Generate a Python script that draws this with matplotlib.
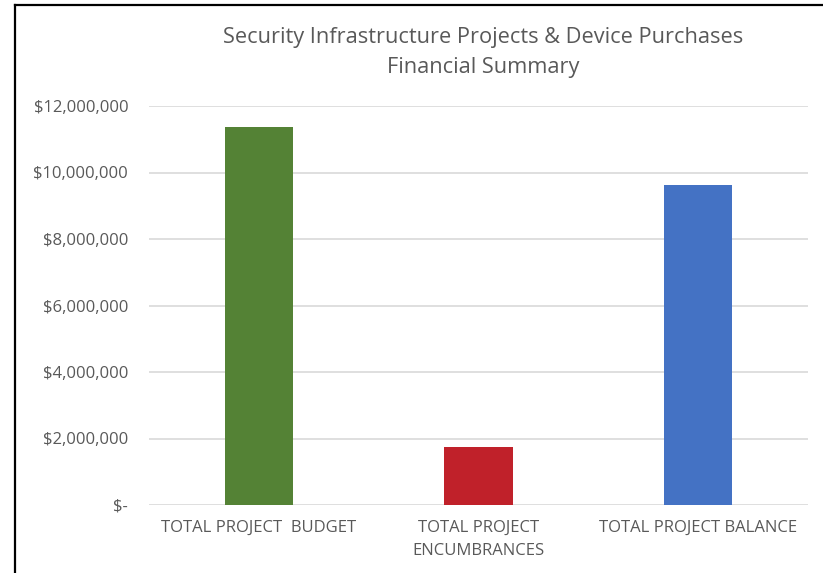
import matplotlib.pyplot as plt
from matplotlib.lines import Line2D
from matplotlib.ticker import FuncFormatter

# DATA
categories = ['TOTAL PROJECT  BUDGET', 'TOTAL PROJECT\nENCUMBRANCES', 'TOTAL PROJECT BALANCE']
values = [11370000, 1740000, 9630000]
colors = ['#548235', '#C0212A', '#4472C4']
yticks = [0, 2000000, 4000000, 6000000, 8000000, 10000000, 12000000]

plt.rcParams['font.family'] = ['Open Sans', 'DejaVu Sans']
TXT = '#595959'

fig = plt.figure(figsize=(8.23, 5.73), dpi=100)
ax = fig.add_axes([149 / 823, 1 - 505 / 573, 659 / 823, 399 / 573])

x = range(len(categories))
ax.bar(x, values, width=0.31, color=colors, zorder=3)
ax.set_xlim(-0.5, len(categories) - 0.5)
ax.set_ylim(0, 12000000)
ax.set_yticks(yticks)


def money(v, pos):
    if v == 0:
        return '$-'
    return '${:,.0f}'.format(v)


ax.yaxis.set_major_formatter(FuncFormatter(money))
ax.set_xticks(list(x))
ax.set_xticklabels(categories, linespacing=1.55)
ax.tick_params(axis='both', length=0, colors=TXT, labelsize=12)
ax.tick_params(axis='y', pad=15)
ax.tick_params(axis='x', pad=11)
ax.grid(axis='y', color='#d9d9d9', linewidth=1.2, zorder=0)
for s in ax.spines.values():
    s.set_visible(False)

fig.text(483 / 823, 1 - 38 / 573, 'Security Infrastructure Projects & Device Purchases',
         ha='center', va='center', fontsize=15.7, color=TXT)
fig.text(483 / 823, 1 - 68 / 573, 'Financial Summary',
         ha='center', va='center', fontsize=15.7, color=TXT)

# outer frame (cropped screenshot, only left and top visible)
fig.add_artist(Line2D([15 / 823, 15 / 823], [0, 1 - 5 / 573], color='black', linewidth=1.6))
fig.add_artist(Line2D([15 / 823, 1], [1 - 5 / 573, 1 - 5 / 573], color='black', linewidth=1.6))

fig.savefig('out.png', dpi=100)
